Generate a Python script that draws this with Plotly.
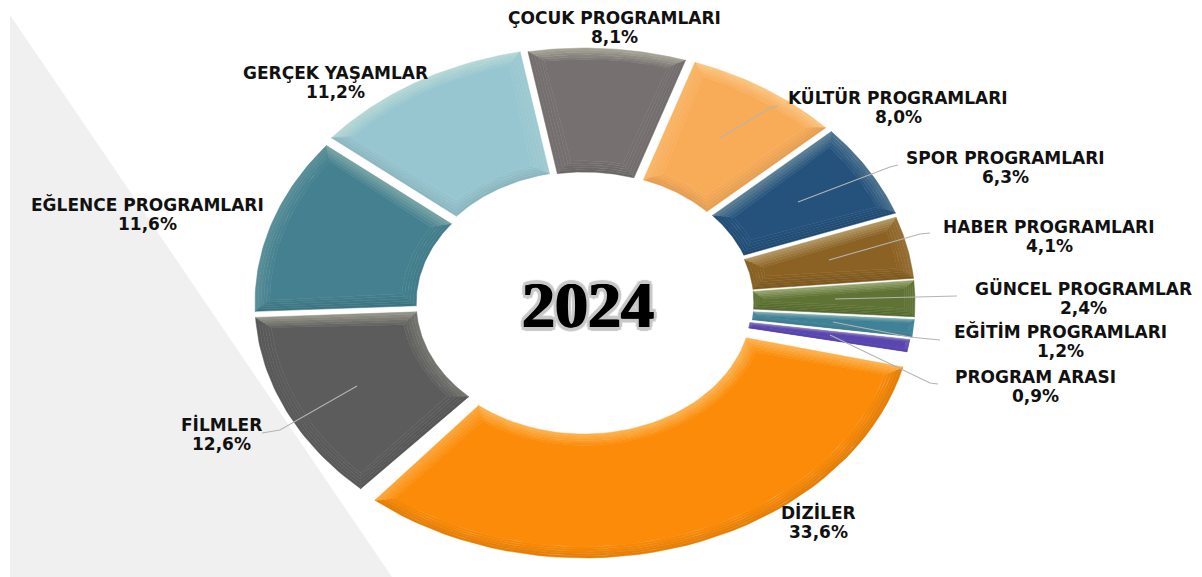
import math
import plotly.graph_objects as go

categories = ["ÇOCUK PROGRAMLARI", "KÜLTÜR PROGRAMLARI", "SPOR PROGRAMLARI", "HABER PROGRAMLARI",
              "GÜNCEL PROGRAMLAR", "EĞİTİM PROGRAMLARI", "PROGRAM ARASI", "DİZİLER",
              "FİLMLER", "EĞLENCE PROGRAMLARI", "GERÇEK YAŞAMLAR"]
values = [8.1, 8.0, 6.3, 4.1, 2.4, 1.2, 0.9, 33.6, 12.6, 11.6, 11.2]

colors = ["#767170", "#f8ac58", "#24527c", "#8b6224", "#5f7434", "#3f8196", "#5a46b0", "#fb8b08",
          "#5c5c5c", "#44808f", "#97c6d0"]
label_xy = [(614, 27), (898, 107), (1005, 167), (1049, 236), (1083, 298), (1060, 341),
            (1035, 386), (818, 522), (221, 434), (147, 214), (335, 82)]
leader_x = [None, [720, 770, 778], [798, 890, 898], [829, 920, 930], [835, 957], [833, 910, 940],
            [830, 930, 938], None, [357, 280, 262], None, None]
leader_y = [None, [138, 108, 106], [202, 167, 165], [260, 234, 233], [299, 296], [322, 337, 340],
            [335, 383, 384], None, [386, 430, 433], None, None]
explode_x = [0, 2, 3, 2, 2, 2, 0, 0, 0, 0, 0]
explode_y = [0, 0, 0, 1, 1, 2, 3, 4, 2, 2, -1]
gaps = [3.5, 3.5, 2.5, 1.5, 1, 1, 1, 3, 3.5, 3.5, 3.5]
trim_start = [0, 0, 0, 0, 0, 0, 0, 2.5, 0, 0, 0]
trim_end = [0, 0, 0, 0, 0, 0, 0, 2, 0, 0, 0]

CX, CY, RX, RY = 584, 301, 329, 253
HOLE = 0.51
START = -10.5


def pt(u, deg, ox, oy):
    a = math.radians(deg)
    return CX + ox + RX * u * math.sin(a), CY + oy - RY * u * math.cos(a)


def hex_rgb(h):
    return tuple(int(h[i:i + 2], 16) for i in (1, 3, 5))


def mix(h, other, t):
    c, o = hex_rgb(h), other
    return "rgb(%d,%d,%d)" % tuple(round(c[i] + (o[i] - c[i]) * t) for i in range(3))


def arc(u, a0, a1, ox, oy, n=40):
    return [pt(u, a0 + (a1 - a0) * i / n, ox, oy) for i in range(n + 1)]


fig = go.Figure()
total = sum(values)
cum = START
AVG = (RX + RY) / 2
for i, (cat, v, col) in enumerate(zip(categories, values, colors)):
    span = v / total * 360
    a0, a1 = cum + trim_start[i], cum + span - trim_end[i]
    cum += span
    ox, oy = explode_x[i], explode_y[i]
    g = gaps[i]
    thick = (a1 - a0) * math.pi / 180 * AVG * HOLE - 2 * g
    w_full = min(13, 0.45 * thick)
    steps = 5
    for s in range(steps):
        f0, f1 = s / steps, (s + 1) / steps
        w0, w1 = g + w_full * f0, g + w_full * f1
        du0, du1 = w_full * f0 / AVG, w_full * f1 / AVG
        di0, do0 = w0 / (AVG * HOLE) * 57.3, w0 / AVG * 57.3
        di1, do1 = w1 / (AVG * HOLE) * 57.3, w1 / AVG * 57.3
        ui0, uo0, ui1, uo1 = HOLE + du0, 1 - du0, HOLE + du1, 1 - du1
        mida = (a0 + a1) / 2
        sides = [
            (arc(uo0, a0 + do0, a1 - do0, ox, oy) + arc(uo1, a1 - do1, a0 + do1, ox, oy), math.cos(math.radians(mida))),
            (arc(ui0, a0 + di0, a1 - di0, ox, oy) + arc(ui1, a1 - di1, a0 + di1, ox, oy), -math.cos(math.radians(mida))),
            ([pt(uo0, a0 + do0, ox, oy), pt(uo1, a0 + do1, ox, oy), pt(ui1, a0 + di1, ox, oy), pt(ui0, a0 + di0, ox, oy)],
             math.sin(math.radians(a0))),
            ([pt(uo0, a1 - do0, ox, oy), pt(uo1, a1 - do1, ox, oy), pt(ui1, a1 - di1, ox, oy), pt(ui0, a1 - di0, ox, oy)],
             -math.sin(math.radians(a1))),
        ]
        fade = 1 - f0
        for poly, up in sides:
            if up > 0:
                c = mix(col, (255, 255, 220), 0.34 * up * fade)
            else:
                c = mix(col, (0, 0, 0), 0.10 * (-up) * fade)
            xs, ys = zip(*poly)
            fig.add_trace(go.Scatter(x=list(xs) + [xs[0]], y=list(ys) + [ys[0]], mode="lines", fill="toself",
                                     fillcolor=c, line=dict(width=0.5, color=c), hoverinfo="skip", showlegend=False))
    w = g + w_full
    du = w_full / AVG
    di, do = w / (AVG * HOLE) * 57.3, w / AVG * 57.3
    poly = arc(1 - du, a0 + do, a1 - do, ox, oy) + arc(HOLE + du, a1 - di, a0 + di, ox, oy)
    xs, ys = zip(*poly)
    fig.add_trace(go.Scatter(x=list(xs) + [xs[0]], y=list(ys) + [ys[0]], mode="lines", fill="toself", fillcolor=col,
                             line=dict(width=0.5, color=col), name=cat, showlegend=False,
                             hovertemplate=f"{cat}<br>{v:.1f}%<extra></extra>".replace(".", ",")))

for lx, ly in zip(leader_x, leader_y):
    if lx:
        fig.add_trace(go.Scatter(x=lx, y=ly, mode="lines", line=dict(color="#b4b4b4", width=1.1),
                                 hoverinfo="skip", showlegend=False))

for cat, v, (x, y) in zip(categories, values, label_xy):
    pct = f"{v:.1f}%".replace(".", ",")
    for text, yy in ((cat, y - 9.5), (pct, y + 9.5)):
        fig.add_annotation(x=x, y=yy, xref="x", yref="y", showarrow=False, align="center",
                           text=f"<b>{text}</b>",
                           font=dict(family="DejaVu Sans", size=17, color="#111111"))

halo = ",".join(f"{dx}px {dy}px 1px #c8c8c8" for dx, dy in
                [(-4, 0), (4, 0), (0, -4), (0, 4), (-3, -3), (3, -3), (-3, 3), (3, 3)])
fig.add_annotation(x=588, y=304, xref="x", yref="y", showarrow=False, text="<b>2024</b>",
                   font=dict(family="Liberation Serif", size=66, color="#000000",
                             shadow="1px 0 0 #000,-1px 0 0 #000," + halo))

fig.update_layout(
    width=1194, height=569, autosize=False, margin=dict(l=0, r=0, t=0, b=0),
    paper_bgcolor="#ffffff", plot_bgcolor="#ffffff", showlegend=False,
    xaxis=dict(range=[8, 1202], visible=False, fixedrange=True),
    yaxis=dict(range=[577, 8], visible=False, fixedrange=True),
    shapes=[dict(type="path", path="M 10 15 L 392 577 L 10 577 Z", fillcolor="#f0f0f0",
                 line=dict(width=0), layer="below")],
)
fig.write_html("out.html", config={"displayModeBar": False})
